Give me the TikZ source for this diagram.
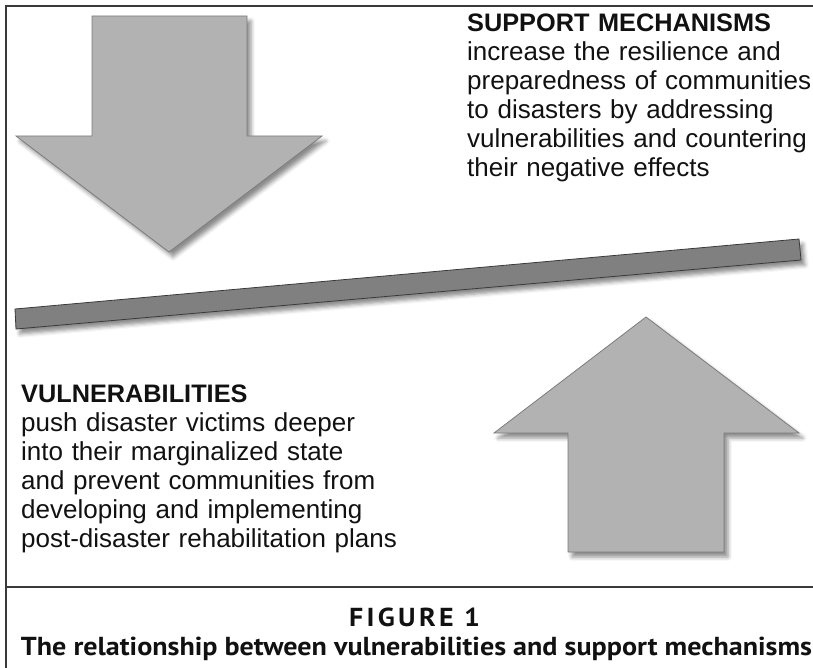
\documentclass[tikz,border=0pt]{standalone}
\usepackage{fontspec}
\setmainfont{Liberation Sans}
\newfontfamily\capfont{PT Sans}
\usetikzlibrary{shadows.blur}

\definecolor{arrowGrey}{HTML}{B2B2B2}
\definecolor{arrowEdge}{HTML}{7C7C7C}
\definecolor{beamGrey}{HTML}{808080}
\definecolor{beamEdge}{HTML}{3A3A3A}
\definecolor{frameInk}{HTML}{3A3A3A}
\definecolor{textInk}{HTML}{111111}

\tikzset{
  softshadow/.style={blur shadow={shadow xshift=4pt, shadow yshift=-5pt,
      shadow blur radius=4pt, shadow opacity=45}},
  bigarrow/.style={fill=arrowGrey, draw=arrowEdge, line width=0.8pt, softshadow},
  beam/.style={fill=beamGrey, draw=beamEdge, line width=0.8pt, softshadow},
  blurb/.style={anchor=base west, inner sep=0pt, text width=420pt, align=left,
      text=textInk, font=\fontsize{26}{29}\selectfont},
  captext/.style={anchor=base, inner sep=0pt, text=textInk,
      font=\capfont\bfseries\fontsize{26}{28}\selectfont},
}
\newcommand{\headline}[1]{{\fontsize{25.3}{29}\selectfont\textbf{#1}}}

\begin{document}
\begin{tikzpicture}[x=1pt,y=-1pt]
  \useasboundingbox (0,0) rectangle (813,668);

  % frame
  \draw[frameInk, line width=1.4pt] (813,6) -- (6,6) -- (6,668);
  \draw[frameInk, line width=1.4pt] (6,587) -- (813,587);

  % arrows and the lever
  \draw[bigarrow] (92,16) -- (247,16) -- (247,136) -- (322,136) -- (169,252)
    -- (16,136) -- (92,136) -- cycle;
  \draw[bigarrow] (568,552) -- (724,552) -- (724,433) -- (799,433) -- (646,317)
    -- (494,433) -- (568,433) -- cycle;
  \draw[beam] (15,309) -- (799,239) -- (801,260) -- (16,329) -- cycle;

  % texts
  \node[blurb] (support) at (467,32) {\headline{SUPPORT MECHANISMS}\\
    increase the resilience and\\
    preparedness of communities\\
    to disasters by addressing\\
    vulnerabilities and countering\\
    their negative effects};
  \node[blurb] (vuln) at (21,402) {\headline{VULNERABILITIES}\\
    push disaster victims deeper\\
    into their marginalized state\\
    and prevent communities from\\
    developing and implementing\\
    post-disaster rehabilitation plans};

  \node[captext] (figno) at (414.5,626)
    {\resizebox{131pt}{\height}{\addfontfeature{LetterSpace=12}FIGURE 1}};
  \node[captext] (caption) at (416.5,655)
    {\resizebox{791pt}{\height}{The relationship between vulnerabilities and support mechanisms}};
\end{tikzpicture}
\end{document}
